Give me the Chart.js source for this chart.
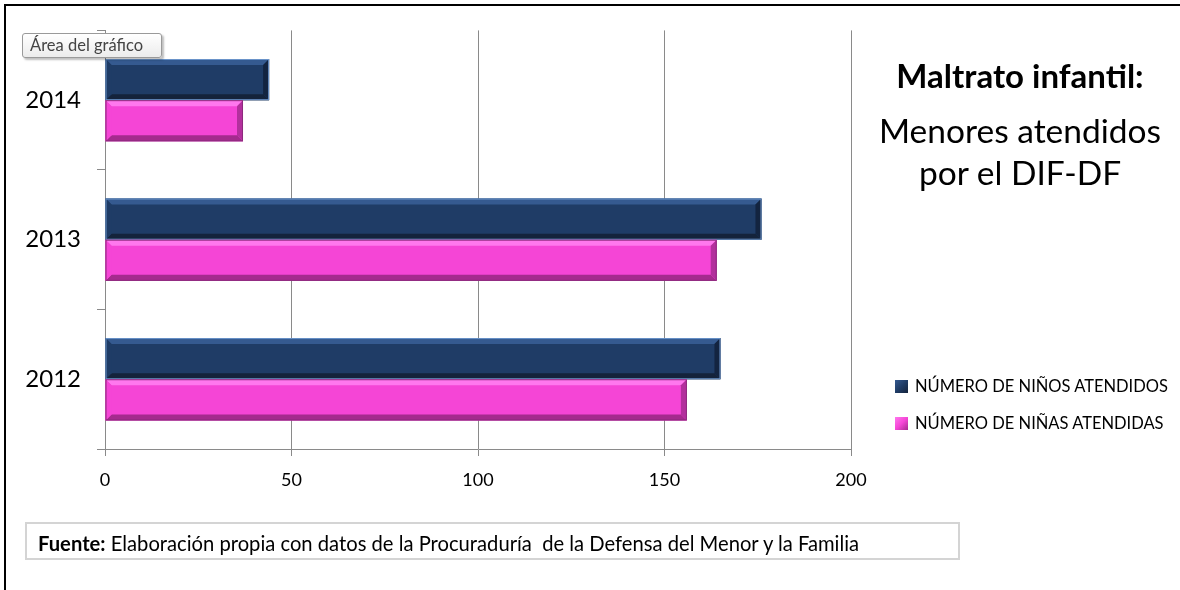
<!DOCTYPE html>
<html>
<head>
<meta charset="UTF-8">
<title>Maltrato infantil</title>
<script src="https://cdn.jsdelivr.net/npm/chart.js"></script>
<style>
  body { margin: 0; background: #fff; font-family: Lato, "Open Sans", sans-serif; }
  #wrap { position: relative; width: 1180px; height: 590px; overflow: hidden; }
  #frame { position: absolute; left: 4px; top: 4px; width: 1300px; height: 700px; border: 2px solid #000; box-sizing: border-box; }
  #chart { position: absolute; left: 0; top: 0; }
  .title { position: absolute; left: 870px; width: 300px; text-align: center; color: #000; white-space: nowrap; }
  #t1 { top: 55px; font-size: 33px; line-height: 40px; font-weight: bold; }
  #t2 { top: 109px; font-size: 33.5px; line-height: 42px; }
  #legend { position: absolute; left: 895px; top: 376px; font-size: 16.5px; color: #000; white-space: nowrap; }
  #legend div { height: 37px; display: flex; align-items: flex-start; line-height: 20px; }
  #legend span.box { display: inline-block; width: 13px; height: 13px; margin: 4px 7px 0 0; box-sizing: border-box; }
  #source { position: absolute; left: 25px; top: 522px; width: 935px; height: 38px; border: 2px solid #d4d4d4; box-sizing: border-box; font-size: 20.2px; line-height: 38px; padding-left: 11px; color: #000; white-space: nowrap; }
  #tip { position: absolute; left: 22px; top: 33px; width: 140px; height: 25px; border: 1px solid #9a9a9a; border-radius: 3px; box-sizing: border-box; background: linear-gradient(#ffffff, #ececec); box-shadow: 2px 2px 2px rgba(0,0,0,0.25); font-size: 16.5px; line-height: 23px; padding-left: 7px; color: #444; white-space: nowrap; }
</style>
</head>
<body>
<div id="wrap">
  <div id="frame"></div>
  <canvas id="chart" width="1180" height="590"></canvas>
  <div class="title" id="t1">Maltrato infantil:</div>
  <div class="title" id="t2">Menores atendidos<br>por el DIF-DF</div>
  <div id="legend"></div>
  <div id="source"><b>Fuente:</b> Elaboración propia con datos de la Procuraduría&nbsp; de la Defensa del Menor y la Familia</div>
  <div id="tip">Área del gráfico</div>
</div>
<script>
const years = ['2014', '2013', '2012'];
const ninos = [44, 176, 165];
const ninas = [37, 164, 156];
const xTicks = [0, 50, 100, 150, 200];

const look = [
  { base: '#1f3c66', top: '#355a90', bottom: '#14233b', end: '#132440', line: '#6a93c9' },
  { base: '#f545d6', top: '#ff78ee', bottom: '#a52a8e', end: '#b3309d', line: '#8e2a7e' }
];

// bevel drawn over each bar, using the bar elements laid out by chart.js
const bevel = {
  id: 'bevel',
  afterDatasetsDraw(chart) {
    const ctx = chart.ctx;
    chart.data.datasets.forEach((ds, di) => {
      const c = look[di];
      chart.getDatasetMeta(di).data.forEach(bar => {
        const p = bar.getProps(['x', 'y', 'base', 'height'], true);
        const l = p.base, r = p.x, t = p.y - p.height / 2, b = p.y + p.height / 2;
        const e = 6;
        ctx.save();
        ctx.fillStyle = c.top;
        ctx.beginPath(); ctx.moveTo(l, t); ctx.lineTo(r, t); ctx.lineTo(r - e, t + e); ctx.lineTo(l + e, t + e); ctx.fill();
        ctx.fillStyle = c.bottom;
        ctx.beginPath(); ctx.moveTo(l, b); ctx.lineTo(r, b); ctx.lineTo(r - e, b - e); ctx.lineTo(l + e, b - e); ctx.fill();
        ctx.fillStyle = c.end;
        ctx.beginPath(); ctx.moveTo(r, t); ctx.lineTo(r, b); ctx.lineTo(r - e, b - e); ctx.lineTo(r - e, t + e); ctx.fill();
        ctx.fillStyle = c.base;
        ctx.beginPath(); ctx.moveTo(l, t); ctx.lineTo(l, b); ctx.lineTo(l + e, b - e); ctx.lineTo(l + e, t + e); ctx.fill();
        ctx.strokeStyle = c.line; ctx.lineWidth = 1;
        ctx.strokeRect(l + 0.5, t + 0.5, r - l - 1, b - t - 1);
        ctx.restore();
      });
    });
  }
};

const chart = new Chart(document.getElementById('chart'), {
  type: 'bar',
  data: {
    labels: years,
    datasets: [
      { label: 'NÚMERO DE NIÑOS ATENDIDOS', data: ninos, backgroundColor: look[0].base },
      { label: 'NÚMERO DE NIÑAS ATENDIDAS', data: ninas, backgroundColor: look[1].base }
    ]
  },
  options: {
    indexAxis: 'y',
    responsive: false,
    animation: false,
    categoryPercentage: 0.59,
    barPercentage: 1,
    layout: { padding: { left: 1, right: 329, top: 26, bottom: 91 } },
    plugins: { legend: { display: false }, tooltip: { enabled: false } },
    scales: {
      x: {
        min: 0, max: 200,
        afterBuildTicks: s => { s.ticks = xTicks.map(v => ({ value: v })); },
        afterFit: s => { s.height = 50; },
        grid: { color: '#8a8a8a', tickLength: 7, lineWidth: 1 },
        border: { color: '#8a8a8a' },
        ticks: { color: '#000', font: { family: 'Lato', size: 18 }, padding: 13 }
      },
      y: {
        afterFit: s => { s.width = 104; },
        grid: { drawOnChartArea: false, color: '#8a8a8a', tickLength: 8 },
        border: { color: '#8a8a8a' },
        ticks: { color: '#000', font: { family: 'Lato', size: 24 }, padding: 16 }
      }
    }
  },
  plugins: [bevel]
});

const leg = document.getElementById('legend');
chart.data.datasets.forEach((ds, i) => {
  const row = document.createElement('div');
  const box = document.createElement('span');
  box.className = 'box';
  box.style.background = 'linear-gradient(135deg,' + look[i].top + ',' + look[i].base + ' 50%,' + look[i].bottom + ')';
  row.appendChild(box);
  row.appendChild(document.createTextNode(ds.label));
  leg.appendChild(row);
});
</script>
</body>
</html>
